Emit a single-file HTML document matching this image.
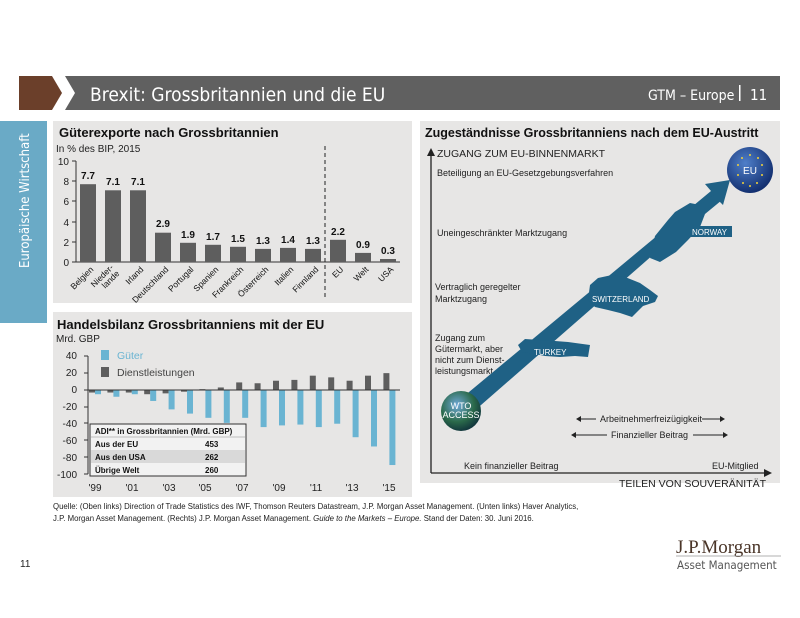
<!DOCTYPE html>
<html><head><meta charset="utf-8"><style>
body{margin:0;width:800px;height:618px;background:#fff;position:relative;overflow:hidden;font-family:"Liberation Sans",sans-serif;}
.a{position:absolute;}
</style></head><body>
<svg class="a" style="left:0;top:0" width="800" height="618" font-family="Liberation Sans, sans-serif">
<polygon points="19,76 52,76 62,93 52,110 19,110" fill="#6b3f2a"/>
<polygon points="65,76 780,76 780,110 65,110 75,93" fill="#606060"/>
<text x="90" y="101" font-size="19" fill="#fff" font-family="DejaVu Sans Condensed, DejaVu Sans, sans-serif">Brexit: Grossbritannien und die EU</text>
<text x="648" y="100" font-size="14" fill="#fff" font-family="DejaVu Sans Condensed, DejaVu Sans, sans-serif">GTM – Europe</text>
<rect x="739" y="85" width="1.5" height="16" fill="#fff"/>
<text x="750" y="100" font-size="15" fill="#fff" font-family="DejaVu Sans Condensed, DejaVu Sans, sans-serif">11</text>
<rect x="0" y="121" width="47" height="202" fill="#6aaac6"/>
<text transform="translate(29,268) rotate(-90)" font-size="13" fill="#fff" font-family="DejaVu Sans Condensed, DejaVu Sans, sans-serif">Europäische Wirtschaft</text>
<rect x="53" y="121" width="359" height="182" fill="#e7e6e5"/>
<text x="59" y="137" font-size="13" font-weight="bold" fill="#111">Güterexporte nach Grossbritannien</text>
<text x="56" y="152" font-size="10" fill="#222">In % des BIP, 2015</text>
<g font-size="10" fill="#222" text-anchor="end">
<text x="69" y="165">10</text><text x="69" y="185">8</text><text x="69" y="205">6</text><text x="69" y="226">4</text><text x="69" y="246">2</text><text x="69" y="266">0</text>
</g>
<line x1="76" y1="161" x2="76" y2="262" stroke="#333"/>
<line x1="76" y1="262" x2="400" y2="262" stroke="#333"/>
<g stroke="#333"><line x1="72" y1="161" x2="76" y2="161"/><line x1="72" y1="181" x2="76" y2="181"/><line x1="72" y1="201" x2="76" y2="201"/><line x1="72" y1="222" x2="76" y2="222"/><line x1="72" y1="242" x2="76" y2="242"/><line x1="72" y1="262" x2="76" y2="262"/></g>
<line x1="325" y1="146" x2="325" y2="298" stroke="#222" stroke-dasharray="4,3"/>
<g fill="#5e5e5e">
<rect x="80" y="184.2" width="16" height="77.8"/>
<rect x="105" y="190.3" width="16" height="71.7"/>
<rect x="130" y="190.3" width="16" height="71.7"/>
<rect x="155" y="232.7" width="16" height="29.3"/>
<rect x="180" y="242.8" width="16" height="19.2"/>
<rect x="205" y="244.8" width="16" height="17.2"/>
<rect x="230" y="246.8" width="16" height="15.2"/>
<rect x="255" y="248.9" width="16" height="13.1"/>
<rect x="280" y="247.9" width="16" height="14.1"/>
<rect x="305" y="248.9" width="16" height="13.1"/>
<rect x="330" y="239.8" width="16" height="22.2"/>
<rect x="355" y="252.9" width="16" height="9.1"/>
<rect x="380" y="259" width="16" height="3"/>
</g>
<g font-size="10" font-weight="bold" fill="#111" text-anchor="middle">
<text x="88" y="179">7.7</text><text x="113" y="185">7.1</text><text x="138" y="185">7.1</text><text x="163" y="227">2.9</text><text x="188" y="238">1.9</text><text x="213" y="240">1.7</text><text x="238" y="242">1.5</text><text x="263" y="244">1.3</text><text x="288" y="243">1.4</text><text x="313" y="244">1.3</text><text x="338" y="235">2.2</text><text x="363" y="248">0.9</text><text x="388" y="254">0.3</text>
</g>
<g font-size="8.5" fill="#111" text-anchor="end">
<text transform="translate(94,270) rotate(-45)">Belgien</text>
<text transform="translate(114,268) rotate(-45)">Nieder-</text>
<text transform="translate(120,274) rotate(-45)">lande</text>
<text transform="translate(144,270) rotate(-45)">Irland</text>
<text transform="translate(169,270) rotate(-45)">Deutschland</text>
<text transform="translate(194,270) rotate(-45)">Portugal</text>
<text transform="translate(219,270) rotate(-45)">Spanien</text>
<text transform="translate(244,270) rotate(-45)">Frankreich</text>
<text transform="translate(269,270) rotate(-45)">Österreich</text>
<text transform="translate(294,270) rotate(-45)">Italien</text>
<text transform="translate(319,270) rotate(-45)">Finnland</text>
<text transform="translate(344,270) rotate(-45)">EU</text>
<text transform="translate(369,270) rotate(-45)">Welt</text>
<text transform="translate(394,270) rotate(-45)">USA</text>
</g>
<rect x="53" y="312" width="359" height="185" fill="#e7e6e5"/>
<text x="57" y="329" font-size="13" font-weight="bold" fill="#111">Handelsbilanz Grossbritanniens mit der EU</text>
<text x="56" y="342" font-size="10" fill="#222">Mrd. GBP</text>
<g font-size="10" fill="#222" text-anchor="end">
<text x="77" y="359">40</text><text x="77" y="376">20</text><text x="77" y="393">0</text><text x="77" y="410">-20</text><text x="77" y="427">-40</text><text x="77" y="444">-60</text><text x="77" y="461">-80</text><text x="77" y="478">-100</text>
</g>
<line x1="88" y1="356" x2="88" y2="474" stroke="#333"/>
<g stroke="#333"><line x1="84" y1="356" x2="88" y2="356"/><line x1="84" y1="373" x2="88" y2="373"/><line x1="84" y1="390" x2="88" y2="390"/><line x1="84" y1="407" x2="88" y2="407"/><line x1="84" y1="423" x2="88" y2="423"/><line x1="84" y1="440" x2="88" y2="440"/><line x1="84" y1="457" x2="88" y2="457"/><line x1="84" y1="474" x2="88" y2="474"/></g>
<g id="bars"></g>
<line x1="88" y1="390" x2="400" y2="390" stroke="#333"/>
<rect x="101" y="350" width="8" height="10" fill="#6ab4d2"/>
<text x="117" y="359" font-size="10.5" fill="#6ab4d2">Güter</text>
<rect x="101" y="367" width="8" height="10" fill="#5e5e5e"/>
<text x="117" y="376" font-size="10.5" fill="#444">Dienstleistungen</text>
<rect x="90" y="424" width="156" height="52" fill="#f2f2f2" stroke="#333"/>
<rect x="91" y="450" width="154" height="13" fill="#d9d9d9"/>
<line x1="91" y1="437" x2="245" y2="437" stroke="#888" stroke-width="0.5"/>
<g font-size="8" font-weight="bold" fill="#111">
<text x="95" y="434">ADI** in Grossbritannien (Mrd. GBP)</text>
<text x="95" y="447">Aus der EU</text><text x="205" y="447">453</text>
<text x="95" y="460">Aus den USA</text><text x="205" y="460">262</text>
<text x="95" y="473">Übrige Welt</text><text x="205" y="473">260</text>
</g>
<g font-size="10" fill="#222" text-anchor="middle">
<text x="95" y="491">'99</text><text x="132" y="491">'01</text><text x="169" y="491">'03</text><text x="205" y="491">'05</text><text x="242" y="491">'07</text><text x="279" y="491">'09</text><text x="316" y="491">'11</text><text x="352" y="491">'13</text><text x="389" y="491">'15</text>
</g>
<rect x="420" y="121" width="360" height="362" fill="#e7e6e5"/>
<text x="425" y="137" font-size="12.5" font-weight="bold" fill="#111">Zugeständnisse Grossbritanniens nach dem EU-Austritt</text>
<line x1="431" y1="152" x2="431" y2="473" stroke="#222" stroke-width="1.3"/>
<polygon points="427,156 431,148 435,156" fill="#222"/>
<line x1="431" y1="473" x2="768" y2="473" stroke="#222" stroke-width="1.3"/>
<polygon points="764,469 772,473 764,477" fill="#222"/>
<text x="437" y="157" font-size="10.5" fill="#222">ZUGANG ZUM EU-BINNENMARKT</text>
<text x="619" y="487" font-size="10.5" fill="#222">TEILEN VON SOUVERÄNITÄT</text>
<g font-size="9" fill="#222">
<text x="437" y="176">Beteiligung an EU-Gesetzgebungsverfahren</text>
<text x="437" y="236">Uneingeschränkter Marktzugang</text>
<text x="435" y="290">Vertraglich geregelter</text><text x="435" y="302">Marktzugang</text>
<text x="435" y="341">Zugang zum</text><text x="435" y="352">Gütermarkt, aber</text><text x="435" y="363">nicht zum Dienst-</text><text x="435" y="374">leistungsmarkt</text>
<text x="464" y="469">Kein finanzieller Beitrag</text>
<text x="712" y="469">EU-Mitglied</text>
<text x="600" y="422">Arbeitnehmerfreizügigkeit</text>
<text x="611" y="438">Finanzieller Beitrag</text>
</g>
<g stroke="#222" stroke-width="1"><line x1="580" y1="419" x2="596" y2="419"/><line x1="702" y1="419" x2="722" y2="419"/><line x1="575" y1="435" x2="607" y2="435"/><line x1="693" y1="435" x2="725" y2="435"/></g>
<g fill="#222"><polygon points="576,419 581,416 581,422"/><polygon points="725,419 720,416 720,422"/><polygon points="571,435 576,432 576,438"/><polygon points="728,435 723,432 723,438"/></g>
<polygon points="457,402 711,191 705,184 730,180 723,205 717,199 465,419" fill="#1f6185"/>
<polygon points="650,258 655,236 668,220 675,212 690,203 700,205 715,194 722,200 705,214 700,227 688,240 676,252 660,262" fill="#1f6185"/>
<rect x="690" y="226" width="42" height="11" fill="#1f6185"/>
<text x="692" y="235" font-size="8" fill="#fff">NORWAY</text>
<polygon points="590,285 598,278 612,275 625,277 640,283 650,290 658,296 655,302 643,306 632,317 620,313 608,310 595,307 588,300" fill="#1f6185"/>
<text x="592" y="302" font-size="8" fill="#fff">SWITZERLAND</text>
<polygon points="518,345 525,339 540,340 555,341 568,342 590,345 588,357 575,356 560,357 545,356 535,354 522,352" fill="#1f6185"/>
<text x="534" y="355" font-size="8" fill="#fff">TURKEY</text>
<defs>
<radialGradient id="g1" cx="0.4" cy="0.35" r="0.7"><stop offset="0" stop-color="#4f7fc9"/><stop offset="1" stop-color="#0f2a6a"/></radialGradient>
<radialGradient id="g2" cx="0.4" cy="0.35" r="0.7"><stop offset="0" stop-color="#6fa8d8"/><stop offset="0.6" stop-color="#2b6a4a"/><stop offset="1" stop-color="#0e2f3a"/></radialGradient>
</defs>
<circle cx="750" cy="170" r="23" fill="url(#g1)"/>
<text x="750" y="174" font-size="10" fill="#fff" text-anchor="middle">EU</text>
<g fill="#f3d23a"><circle cx="750" cy="155" r="1"/><circle cx="758" cy="158" r="1"/><circle cx="762" cy="165" r="1"/><circle cx="762" cy="175" r="1"/><circle cx="757" cy="183" r="1"/><circle cx="750" cy="186" r="1"/><circle cx="743" cy="183" r="1"/><circle cx="738" cy="175" r="1"/><circle cx="738" cy="165" r="1"/><circle cx="742" cy="158" r="1"/></g>
<circle cx="461" cy="411" r="20" fill="url(#g2)"/>
<text x="461" y="409" font-size="9" fill="#fff" text-anchor="middle">WTO</text>
<text x="461" y="418" font-size="9" fill="#fff" text-anchor="middle">ACCESS</text>
<g font-size="7.8" fill="#222">
<text x="53" y="509">Quelle: (Oben links) Direction of Trade Statistics des IWF, Thomson Reuters Datastream, J.P. Morgan Asset Management. (Unten links) Haver Analytics,</text>
<text x="53" y="521">J.P. Morgan Asset Management. (Rechts) J.P. Morgan Asset Management. <tspan font-style="italic">Guide to the Markets – Europe.</tspan> Stand der Daten: 30. Juni 2016.</text>
</g>
<text x="20" y="567" font-size="10" fill="#222">11</text>
<text x="676" y="553" font-size="19" fill="#4a3528" font-family="Liberation Serif, serif">J.P.Morgan</text>
<line x1="676" y1="556" x2="781" y2="556" stroke="#999" stroke-width="0.7"/>
<text x="677" y="569" font-size="11.5" fill="#555" font-family="DejaVu Sans Condensed, DejaVu Sans, sans-serif">Asset Management</text>
</svg>
<script>
var g=[-5,-8,-5,-13,-23,-28,-33,-39,-33,-44,-42,-41,-44,-40,-56,-67,-89];
var s=[-3,-3,-3,-5,-4,-2,1,3,9,8,11,12,17,15,11,17,20];
var h='';var k=0.843,z=390;
for(var i=0;i<17;i++){var x=95+i*18.4;
var v=s[i];h+='<rect x="'+(x-6)+'" y="'+(v>0?z-v*k:z)+'" width="6" height="'+Math.abs(v*k)+'" fill="#5e5e5e"/>';
v=g[i];h+='<rect x="'+x+'" y="'+z+'" width="6" height="'+Math.abs(v*k)+'" fill="#6ab4d2"/>';}
document.getElementById('bars').innerHTML=h;
</script>
</body></html>
